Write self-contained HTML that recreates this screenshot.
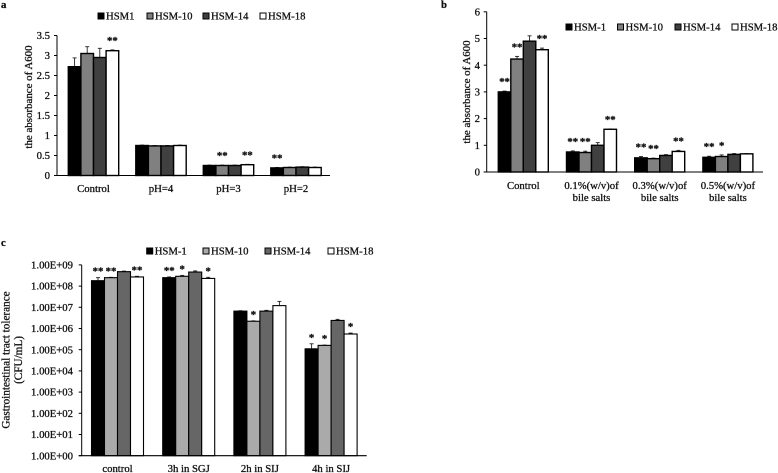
<!DOCTYPE html>
<html>
<head>
<meta charset="utf-8">
<style>
html,body{margin:0;padding:0;background:#fff;width:778px;height:473px;overflow:hidden}
svg{display:block;font-family:"Liberation Serif",serif;fill:#111;filter:blur(.3px)}
svg text{font-size:10.7px;stroke:#111;stroke-width:.3px}
</style>
</head>
<body>
<svg id="figure" width="778" height="473" xmlns="http://www.w3.org/2000/svg"></svg>
<script>
var seriesA = ['HSM1', 'HSM-10', 'HSM-14', 'HSM-18'];
var categoriesA = [['Control'], ['pH=4'], ['pH=3'], ['pH=2']];
var ticksA = ['0', '0.5', '1', '1.5', '2', '2.5', '3', '3.5'];
var tickValuesA = [0, 0.5, 1, 1.5, 2, 2.5, 3, 3.5];
var valuesA = [[2.72, 3.05, 2.95, 3.12], [0.75, 0.74, 0.74, 0.75], [0.25, 0.25, 0.25, 0.27], [0.19, 0.2, 0.21, 0.2]];
var errorsA = [[0.22, 0.17, 0.23, 0.02], [0.01, 0.01, 0.01, 0.01], [0.01, 0.01, 0.01, 0.01], [0.01, 0.01, 0.01, 0.01]];
var starsA = [['', '', '', '**'], ['', '', '', ''], ['', '**', '', '**'], ['**', '', '', '']];

var seriesB = ['HSM-1', 'HSM-10', 'HSM-14', 'HSM-18'];
var categoriesB = [['Control'], ['0.1%(w/v)of', 'bile salts'], ['0.3%(w/v)of', 'bile salts'], ['0.5%(w/v)of', 'bile salts']];
var ticksB = ['0', '1', '2', '3', '4', '5', '6'];
var tickValuesB = [0, 1, 2, 3, 4, 5, 6];
var valuesB = [[3.0, 4.23, 4.9, 4.58], [0.75, 0.73, 1.0, 1.6], [0.53, 0.5, 0.62, 0.77], [0.55, 0.58, 0.66, 0.68]];
var errorsB = [[0.03, 0.1, 0.2, 0.06], [0.04, 0.05, 0.1, 0.01], [0.05, 0.02, 0.03, 0.04], [0.04, 0.06, 0.03, 0.01]];
var starsB = [['**', '**', '', '**'], ['**', '**', '', '**'], ['**', '**', '', '**'], ['**', '*', '', '']];

var seriesC = ['HSM-1', 'HSM-10', 'HSM-14', 'HSM-18'];
var categoriesC = [['control'], ['3h in SGJ'], ['2h in SIJ'], ['4h in SIJ']];
var ticksC = ['1.00E+00', '1.00E+01', '1.00E+02', '1.00E+03', '1.00E+04', '1.00E+05', '1.00E+06', '1.00E+07', '1.00E+08', '1.00E+09'];
var tickValuesC = [1, 1e1, 1e2, 1e3, 1e4, 1e5, 1e6, 1e7, 1e8, 1e9];
var valuesC = [[1.8e8, 2.5e8, 4.8e8, 2.7e8], [2.5e8, 2.9e8, 4.6e8, 2.3e8], [6.6e6, 2.2e6, 6.6e6, 1.2e7], [1.1e5, 1.6e5, 2.4e6, 5.5e5]];
var errorsC = [[7e7, 1e7, 3e7, 2e7], [2e7, 3e7, 6e7, 3e7], [3e5, 1e5, 6e5, 7e6], [8e4, 5e3, 3e5, 6e4]];
var starsC = [['**', '**', '', '**'], ['**', '*', '', '*'], ['', '*', '', ''], ['*', '*', '', '*']];

var svg = document.getElementById('figure');
var NS = 'http://www.w3.org/2000/svg';

function make(tag, props, text) {
  var el = document.createElementNS(NS, tag);
  for (var k in props) el.setAttribute(k, props[k]);
  if (text !== undefined) el.textContent = text;
  svg.appendChild(el);
  return el;
}

function drawPanel(p) {
  var i, j, el;
  function yOf(v) { return p.y0 - p.scale(v); }

  el = make('text', {x: p.letterX, y: p.letterY, 'font-weight': 'bold'}, p.letter);
  
  

  for (i = 0; i < p.titles.length; i++) {
    el = make('text', {'text-anchor': 'middle', style: 'font-size:' + p.titleSize + 'px', transform: 'translate(' + p.titles[i][1] + ',' + p.titleY + ') rotate(-90)'}, p.titles[i][0]);
    
    
  }

  for (i = 0; i < p.categories.length; i++) {
    var cx = p.firstCenter + i * p.spacing;
    for (j = 0; j < p.series.length; j++) {
      var x = cx + (j - 2) * p.barW;
      var v = p.values[i][j];
      var top = yOf(v);
      var errTop = yOf(v + p.errors[i][j]);
      el = make('line', {x1: x + p.barW / 2, x2: x + p.barW / 2, y1: top, y2: errTop, stroke: '#222', 'stroke-width': 0.9});
      
      
      el = make('line', {x1: x + p.barW / 2 - 2, x2: x + p.barW / 2 + 2, y1: errTop, y2: errTop, stroke: '#222', 'stroke-width': 0.9});
      
      
      el = make('rect', {x: x, y: top, width: p.barW, height: p.y0 - top, fill: p.fills[j], stroke: '#000', 'stroke-width': p.barStroke});
      
      
      if (p.stars[i][j]) {
        el = make('text', {x: x + p.barW / 2, y: errTop - p.starGap, 'text-anchor': 'middle', 'font-weight': 'bold'}, p.stars[i][j]);
        
        
      }
    }
    for (j = 0; j < p.categories[i].length; j++) {
      el = make('text', {x: cx, y: p.catY + j * 12, 'text-anchor': 'middle'}, p.categories[i][j]);
      
      
    }
  }

  el = make('line', {x1: p.axisX, x2: p.axisX, y1: yOf(p.tickValues[p.tickValues.length - 1]), y2: p.y0, stroke: '#000', 'stroke-width': 1});
  
  
  el = make('line', {x1: p.axisX - 3, x2: p.axisEnd, y1: p.y0, y2: p.y0, stroke: '#000', 'stroke-width': 1.1});
  
  

  for (i = 0; i < p.ticks.length; i++) {
    var ty = yOf(p.tickValues[i]);
    el = make('line', {x1: p.axisX - 3, x2: p.axisX, y1: ty, y2: ty, stroke: '#000', 'stroke-width': 1});
    
    
    el = make('text', {x: p.tickX, y: ty + 3.6, 'text-anchor': 'end'}, p.ticks[i]);
    
    
  }

  for (j = 0; j < p.series.length; j++) {
    el = make('rect', {x: p.legendX[j], y: p.legendY - 3, width: 6, height: 6, fill: p.fills[j], stroke: '#000', 'stroke-width': 1});
    
    
    el = make('text', {x: p.legendX[j] + 8, y: p.legendY + 3.6}, p.series[j]);
    
    
  }
}

function linear(pxPerUnit) { return function (v) { return v * pxPerUnit; }; }
function logScale(pxPerDecade) { return function (v) { return Math.log(v) / Math.LN10 * pxPerDecade; }; }

drawPanel({
  letter: 'a', letterX: 1, letterY: 8,
  titles: [['the absorbance of A600', 32]], titleY: 97, titleSize: 10.9,
  series: seriesA, categories: categoriesA, values: valuesA, errors: errorsA, stars: starsA,
  ticks: ticksA, tickValues: tickValuesA, scale: linear(40),
  fills: ['#000', '#808080', '#404040', '#fff'],
  y0: 175.5, axisX: 57, axisEnd: 330, tickX: 50, catY: 192,
  firstCenter: 93.5, spacing: 67.5, barW: 12.6, starGap: 6, barStroke: 1.4,
  legendX: [98, 147, 203, 260], legendY: 16
});

drawPanel({
  letter: 'b', letterX: 441, letterY: 8,
  titles: [['the absorbance of A600', 470]], titleY: 92, titleSize: 10.9,
  series: seriesB, categories: categoriesB, values: valuesB, errors: errorsB, stars: starsB,
  ticks: ticksB, tickValues: tickValuesB, scale: linear(26.7),
  fills: ['#000', '#808080', '#404040', '#fff'],
  y0: 172, axisX: 486.7, axisEnd: 763, tickX: 480, catY: 189,
  firstCenter: 523.3, spacing: 68.2, barW: 12.5, starGap: 6, barStroke: 1.4,
  legendX: [566, 617.5, 675, 732], legendY: 27
});

drawPanel({
  letter: 'c', letterX: 1, letterY: 246,
  titles: [['Gastrointestinal tract tolerance', 9.5], ['(CFU/mL)', 22]], titleY: 360, titleSize: 11.2,
  series: seriesC, categories: categoriesC, values: valuesC, errors: errorsC, stars: starsC,
  ticks: ticksC, tickValues: tickValuesC, scale: logScale(21.2),
  fills: ['#000', '#aaaaaa', '#666666', '#fff'],
  y0: 455.7, axisX: 81.7, axisEnd: 366.7, tickX: 73, catY: 472,
  firstCenter: 117.5, spacing: 71.2, barW: 13, starGap: 3, barStroke: 1.1,
  legendX: [146.7, 203, 265, 328], legendY: 251
});
</script>
</body>
</html>
